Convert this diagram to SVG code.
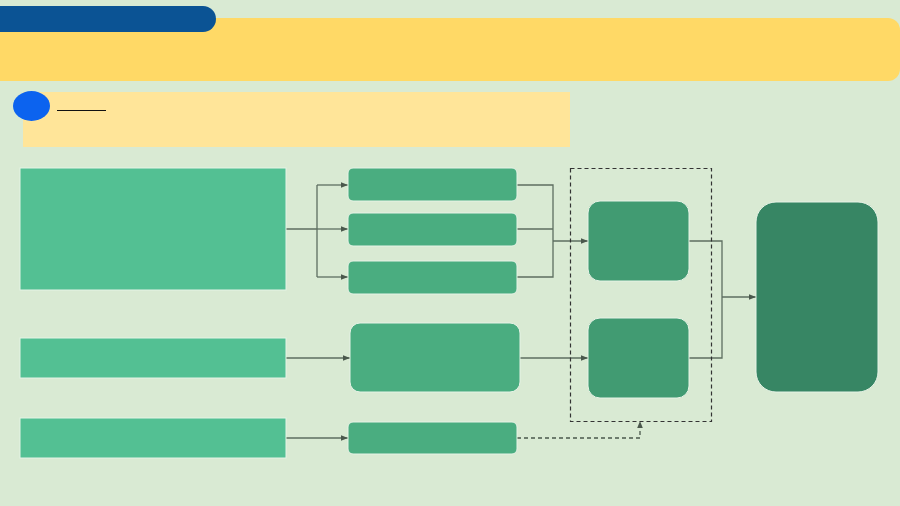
<svg xmlns="http://www.w3.org/2000/svg" width="900" height="506" viewBox="0 0 900 506">
<style>
.bg{fill:#d9ead3}
.src{fill:#53c093;stroke:#e6f3e6;stroke-width:1}
.mid{fill:#4aad80;stroke:#e6f3e6;stroke-width:1}
.proc{fill:#419b72;stroke:#e6f3e6;stroke-width:1}
.out{fill:#378664;stroke:#e6f3e6;stroke-width:1}
.c{fill:none;stroke:#5d6e60;stroke-width:1.3}
.d{fill:none;stroke:#4a584c;stroke-width:1.3;stroke-dasharray:4 3}
</style>
<defs>
<marker id="ah" viewBox="0 0 10 10" refX="10" refY="5" markerWidth="7" markerHeight="7" orient="auto" markerUnits="userSpaceOnUse">
<path d="M0,1 L10,5 L0,9 z" fill="#4a584c"/>
</marker>
</defs>
<rect class="bg" x="0" y="0" width="900" height="506"/>
<g id="header">
<rect x="-20" y="18" width="920" height="63" rx="12" fill="#ffd966"/>
<rect x="-20" y="6" width="236" height="26" rx="13" fill="#0b5394"/>
</g>
<g id="subheader">
<rect x="23" y="92" width="547" height="55" fill="#ffe599"/>
<ellipse cx="31.5" cy="106" rx="18.5" ry="15" fill="#0c63ef"/>
<line x1="57" y1="110.5" x2="106" y2="110.5" stroke="#111" stroke-width="1"/>
</g>
<g id="connectors">
<path class="c" d="M286,229 H317 M317,185 V277"/>
<path class="c" d="M317,185 H348" marker-end="url(#ah)"/>
<path class="c" d="M317,229 H348" marker-end="url(#ah)"/>
<path class="c" d="M317,277 H348" marker-end="url(#ah)"/>
<path class="c" d="M517,185 H553 V277 H517 M517,229 H553"/>
<path class="c" d="M553,241 H588" marker-end="url(#ah)"/>
<path class="c" d="M286,358 H350" marker-end="url(#ah)"/>
<path class="c" d="M520,358 H588" marker-end="url(#ah)"/>
<path class="c" d="M689,241 H722 V358 H689"/>
<path class="c" d="M722,297 H756" marker-end="url(#ah)"/>
<path class="c" d="M286,438 H348" marker-end="url(#ah)"/>
<path class="d" d="M517,438 H640 V421" marker-end="url(#ah)"/>
</g>
<g id="group-box">
<rect x="570.5" y="168.5" width="141" height="253" fill="none" stroke="#333" stroke-width="1.2" stroke-dasharray="4 3"/>
</g>
<g id="src1"><rect class="src" x="20" y="168" width="266" height="122"/></g>
<g id="src2"><rect class="src" x="20" y="338" width="266" height="40"/></g>
<g id="src3"><rect class="src" x="20" y="418" width="266" height="40"/></g>
<g id="mid1"><rect class="mid" x="348" y="168" width="169" height="33" rx="5"/></g>
<g id="mid2"><rect class="mid" x="348" y="213" width="169" height="33" rx="5"/></g>
<g id="mid3"><rect class="mid" x="348" y="261" width="169" height="33" rx="5"/></g>
<g id="mid4"><rect class="mid" x="350" y="323" width="170" height="69" rx="10"/></g>
<g id="mid5"><rect class="mid" x="348" y="422" width="169" height="32" rx="5"/></g>
<g id="proc1"><rect class="proc" x="588" y="201" width="101" height="80" rx="12"/></g>
<g id="proc2"><rect class="proc" x="588" y="318" width="101" height="80" rx="12"/></g>
<g id="out"><rect class="out" x="756" y="202" width="122" height="190" rx="20"/></g>
</svg>
